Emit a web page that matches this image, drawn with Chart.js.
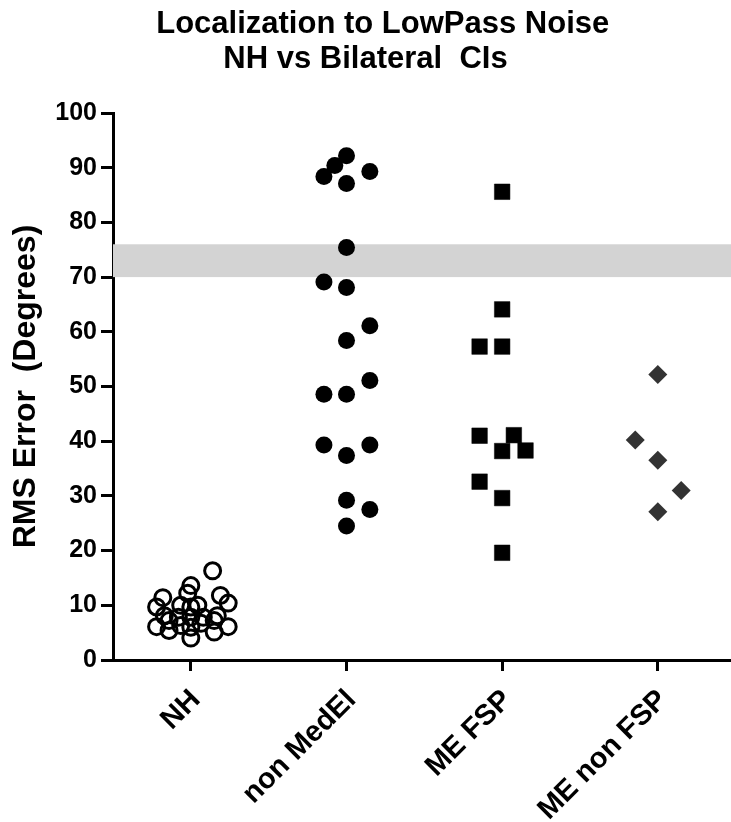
<!DOCTYPE html>
<html>
<head>
<meta charset="utf-8">
<script src="https://cdn.jsdelivr.net/npm/chart.js"></script>
<style>
  html, body { margin: 0; padding: 0; background: #fff; }
  #wrap { width: 731px; height: 822px; }
</style>
</head>
<body>
<div id="wrap"><canvas id="chart" width="731" height="822"></canvas></div>
<script>
// Groups along the x axis
const categories = ["NH", "non MedEl", "ME FSP", "ME non FSP"];

// RMS error values (degrees) per group, with their column-scatter offsets (in category widths)
const nhValues  = [16.3, 13.6, 11.4, 11.8, 10.4, 9.7, 12.2, 10.0, 6.1, 5.4, 4.0, 5.1, 6.1, 7.8, 7.8, 7.8, 8.1, 8.1, 10.0, 6.7, 6.3, 6.0, 9.7, 7.2, 7.2];
const nhOffsets = [0.14, 0, -0.18, 0.19, 0.24, -0.22, -0.02, 0.045, -0.22, -0.14, 0, 0.15, 0.24, -0.08, 0.08, 0, -0.17, 0.17, -0.065, 0.065, -0.065, 0, 0, -0.14, 0.15];

const nonMedElValues  = [92.2, 90.4, 88.4, 89.3, 87.1, 75.4, 69.1, 68.1, 61.1, 58.4, 51.1, 48.6, 48.6, 39.3, 39.3, 37.4, 29.2, 27.5, 24.5];
const nonMedElOffsets = [0, -0.075, -0.145, 0.15, 0, 0, -0.145, 0, 0.15, 0, 0.15, -0.145, 0, -0.145, 0.15, 0, 0, 0.15, 0];

const meFspValues  = [85.6, 64.1, 57.3, 57.3, 41.0, 41.1, 38.2, 38.3, 32.6, 29.6, 19.6];
const meFspOffsets = [0, 0, -0.145, 0, -0.145, 0.075, 0, 0.15, -0.145, 0, 0];

const meNonFspValues  = [52.2, 40.2, 36.5, 31.0, 27.1];
const meNonFspOffsets = [0, -0.145, 0, 0.15, 0];

// shaded reference band (degrees)
const bandLow = 70;
const bandHigh = 76;

const yTicks = { min: 0, max: 100, step: 10 };

const toPoints = (idx, values, offsets) => values.map((v, i) => ({ x: idx + offsets[i], y: v }));

const bandPlugin = {
  id: "band",
  beforeDatasetsDraw(chart) {
    const { ctx, scales: { x, y } } = chart;
    const top = y.getPixelForValue(bandHigh);
    const bottom = y.getPixelForValue(bandLow);
    ctx.save();
    ctx.fillStyle = "#d3d3d3";
    ctx.fillRect(x.left, top, x.right - x.left, bottom - top);
    ctx.restore();
  }
};

const fontFamily = "'Liberation Sans', Arial, sans-serif";

new Chart(document.getElementById("chart"), {
  type: "scatter",
  data: {
    datasets: [
      {
        label: categories[0],
        data: toPoints(0, nhValues, nhOffsets),
        pointStyle: "circle",
        pointRadius: 8,
        pointBorderWidth: 3,
        borderColor: "#000",
        backgroundColor: "rgba(0,0,0,0)"
      },
      {
        label: categories[1],
        data: toPoints(1, nonMedElValues, nonMedElOffsets),
        pointStyle: "circle",
        pointRadius: 8.5,
        pointBorderWidth: 0,
        borderColor: "#000",
        backgroundColor: "#000"
      },
      {
        label: categories[2],
        data: toPoints(2, meFspValues, meFspOffsets),
        pointStyle: "rect",
        pointRadius: 11,
        pointBorderWidth: 0.5,
        borderColor: "#000",
        backgroundColor: "#000"
      },
      {
        label: categories[3],
        data: toPoints(3, meNonFspValues, meNonFspOffsets),
        pointStyle: "rectRot",
        pointRadius: 9.5,
        pointBorderWidth: 0,
        borderColor: "#333",
        backgroundColor: "#333"
      }
    ]
  },
  options: {
    responsive: false,
    animation: false,
    layout: { padding: 0, autoPadding: false },
    plugins: {
      legend: { display: false },
      tooltip: { enabled: false },
      title: {
        display: true,
        text: ["    Localization to LowPass Noise", "NH vs Bilateral  CIs"],
        color: "#000",
        font: { family: fontFamily, size: 31, weight: "bold", lineHeight: 35 / 31 },
        padding: { top: 7, bottom: 36 }
      }
    },
    scales: {
      x: {
        type: "linear",
        min: -0.5,
        max: 3.47,
        afterBuildTicks: (scale) => {
          scale.ticks = categories.map((c, i) => ({ value: i }));
        },
        afterFit: (scale) => {
          scale.height = 162;
          scale.paddingLeft = 0;
          scale.paddingRight = 0;
        },
        ticks: {
          callback: (v) => categories[v],
          color: "#000",
          font: { family: fontFamily, size: 29, weight: "bold" },
          minRotation: 45,
          maxRotation: 45,
          padding: 12,
          labelOffset: 5,
          autoSkip: false
        },
        grid: { drawOnChartArea: false, color: "#000", lineWidth: 3, tickLength: 11 },
        border: { color: "#000", width: 3 }
      },
      y: {
        min: yTicks.min,
        max: yTicks.max,
        afterFit: (scale) => { scale.width = 113; },
        ticks: {
          stepSize: yTicks.step,
          color: "#000",
          font: { family: fontFamily, size: 25, weight: "bold" },
          padding: 4
        },
        title: {
          display: true,
          text: "RMS Error  (Degrees)",
          color: "#000",
          font: { family: fontFamily, size: 32, weight: "bold" },
          padding: { top: 7, bottom: 0 }
        },
        grid: { drawOnChartArea: false, color: "#000", lineWidth: 3, tickLength: 12 },
        border: { color: "#000", width: 3 }
      }
    }
  },
  plugins: [bandPlugin]
});
</script>
</body>
</html>
